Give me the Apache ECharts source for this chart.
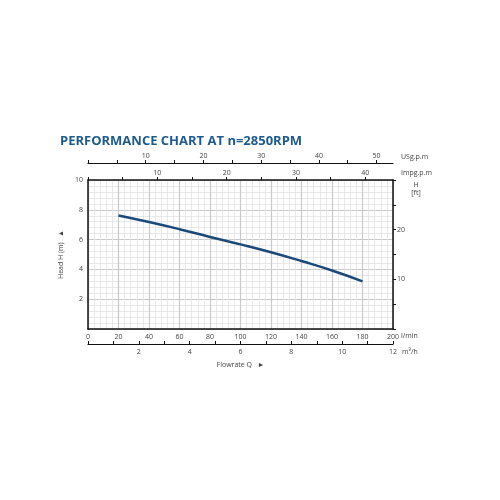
<!DOCTYPE html>
<html>
<head>
<meta charset="utf-8">
<script src="https://cdn.jsdelivr.net/npm/echarts@6/dist/echarts.min.js"></script>
<style>
html, body { margin: 0; padding: 0; background: #fff; }
#main { width: 500px; height: 500px; }
</style>
</head>
<body>
<div id="main"></div>
<script>
// pump curve, flow in l/min vs head in m
var flowLmin = [20, 40, 60, 80, 100, 120, 140, 160, 180];
var headM = [7.62, 7.18, 6.7, 6.18, 5.68, 5.15, 4.56, 3.93, 3.2];

// secondary scale ranges (same 0..200 l/min span)
var usgpmMax = 52.84;
var impgpmMax = 43.99;
var m3hMax = 12;
var ftMax = 30;

var curve = [];
for (var i = 0; i < flowLmin.length; i++) {
	curve.push([flowLmin[i], headM[i]]);
}

var font = 'Open Sans';
var txt = '#444';

var dom = document.getElementById('main');
var myChart = echarts.init(dom);
myChart.setOption({
	animation : false,
	title : {
		text : 'PERFORMANCE CHART AT n=2850RPM',
		left : 55,
		top : 130,
		textStyle : {
			fontFamily : font,
			fontWeight : 'bold',
			fontSize : 13,
			color : '#1d5b8f'
		}
	},
	grid : {
		left : 88,
		right : 107,
		top : 180,
		bottom : 171
	},
	xAxis : [ {
		type : 'value',
		position : 'bottom',
		min : 0,
		max : 200,
		interval : 20,
		axisLine : { onZero : false, lineStyle : { color : '#111', width : 1.5 } },
		axisTick : { show : false },
		axisLabel : { fontFamily : font, fontSize : 7, color : txt, margin : 4 },
		splitLine : { show : true, lineStyle : { color : '#c9c9c9', width : 1.2 } },
		minorTick : { show : false, splitNumber : 5 },
		minorSplitLine : { show : true, lineStyle : { color : '#e3e3e3', width : 0.8 } }
	}, {
		type : 'value',
		position : 'top',
		min : 0,
		max : impgpmMax,
		interval : 5,
		axisLine : { onZero : false, lineStyle : { color : '#111', width : 1.5 } },
		axisTick : { show : true, length : 3, lineStyle : { color : '#111' } },
		axisLabel : {
			fontFamily : font, fontSize : 7, color : txt, margin : 4,
			showMaxLabel : false,
			formatter : function(v) { return (v > 0 && v % 10 === 0) ? v : ''; }
		},
		splitLine : { show : false }
	}, {
		type : 'value',
		position : 'top',
		offset : 17,
		min : 0,
		max : usgpmMax,
		interval : 5,
		axisLine : { show : true, onZero : false, lineStyle : { color : '#111', width : 1.2 } },
		axisTick : { show : true, length : 3, lineStyle : { color : '#111' } },
		axisLabel : {
			fontFamily : font, fontSize : 7, color : txt, margin : 4,
			showMaxLabel : false,
			formatter : function(v) { return (v > 0 && v % 10 === 0) ? v : ''; }
		},
		splitLine : { show : false }
	}, {
		type : 'value',
		position : 'bottom',
		offset : 15,
		min : 0,
		max : m3hMax,
		interval : 1,
		name : 'Flowrate Q   \u25BA',
		nameLocation : 'middle',
		nameGap : 17,
		nameTextStyle : { fontFamily : font, fontSize : 7, color : txt },
		axisLine : { show : true, onZero : false, lineStyle : { color : '#111', width : 1.2 } },
		axisTick : { show : true, inside : true, length : 3, lineStyle : { color : '#111' } },
		axisLabel : {
			fontFamily : font, fontSize : 7, color : txt, margin : 4,
			formatter : function(v) { return (v > 0 && v % 2 === 0) ? v : ''; }
		},
		splitLine : { show : false }
	} ],
	yAxis : [ {
		type : 'value',
		position : 'left',
		min : 0,
		max : 10,
		interval : 2,
		name : 'Head H (m)   \u25B2',
		nameLocation : 'middle',
		nameGap : 15,
		nameTextStyle : { fontFamily : font, fontSize : 7, color : txt },
		axisLine : { show : true, onZero : false, lineStyle : { color : '#111', width : 1.5 } },
		axisTick : { show : false },
		axisLabel : {
			fontFamily : font, fontSize : 7, color : txt, margin : 5,
			formatter : function(v) { return v > 0 ? v : ''; }
		},
		splitLine : { show : true, lineStyle : { color : '#c9c9c9', width : 1.2 } },
		minorTick : { show : false, splitNumber : 5 },
		minorSplitLine : { show : true, lineStyle : { color : '#e3e3e3', width : 0.8 } }
	}, {
		type : 'value',
		position : 'right',
		min : 0,
		max : ftMax,
		interval : 5,
		axisLine : { show : true, onZero : false, lineStyle : { color : '#111', width : 1.5 } },
		axisTick : { show : true, length : 3, lineStyle : { color : '#111' } },
		axisLabel : {
			fontFamily : font, fontSize : 7, color : txt, margin : 4,
			formatter : function(v) { return (v === 10 || v === 20) ? v : ''; }
		},
		splitLine : { show : false }
	} ],
	graphic : [ {
		type : 'text', x : 401, y : 332,
		style : { text : 'l/min', fontFamily : font, fontSize : 7, fill : txt }
	}, {
		type : 'text', x : 402, y : 348,
		style : { text : 'm\u00B3/h', fontFamily : font, fontSize : 7, fill : txt }
	}, {
		type : 'text', x : 401, y : 153,
		style : { text : 'USg.p.m', fontFamily : font, fontSize : 7, fill : txt }
	}, {
		type : 'text', x : 401, y : 169,
		style : { text : 'Impg.p.m', fontFamily : font, fontSize : 7, fill : txt }
	}, {
		type : 'text', x : 416, y : 181,
		style : { text : 'H\n[ft]', fontFamily : font, fontSize : 7, fill : txt, align : 'center', lineHeight : 8 }
	} ],
	series : [ {
		type : 'line',
		xAxisIndex : 0,
		yAxisIndex : 0,
		data : curve,
		smooth : true,
		symbol : 'none',
		lineStyle : { color : '#1b4a7a', width : 2.5 }
	} ]
});
</script>
</body>
</html>
